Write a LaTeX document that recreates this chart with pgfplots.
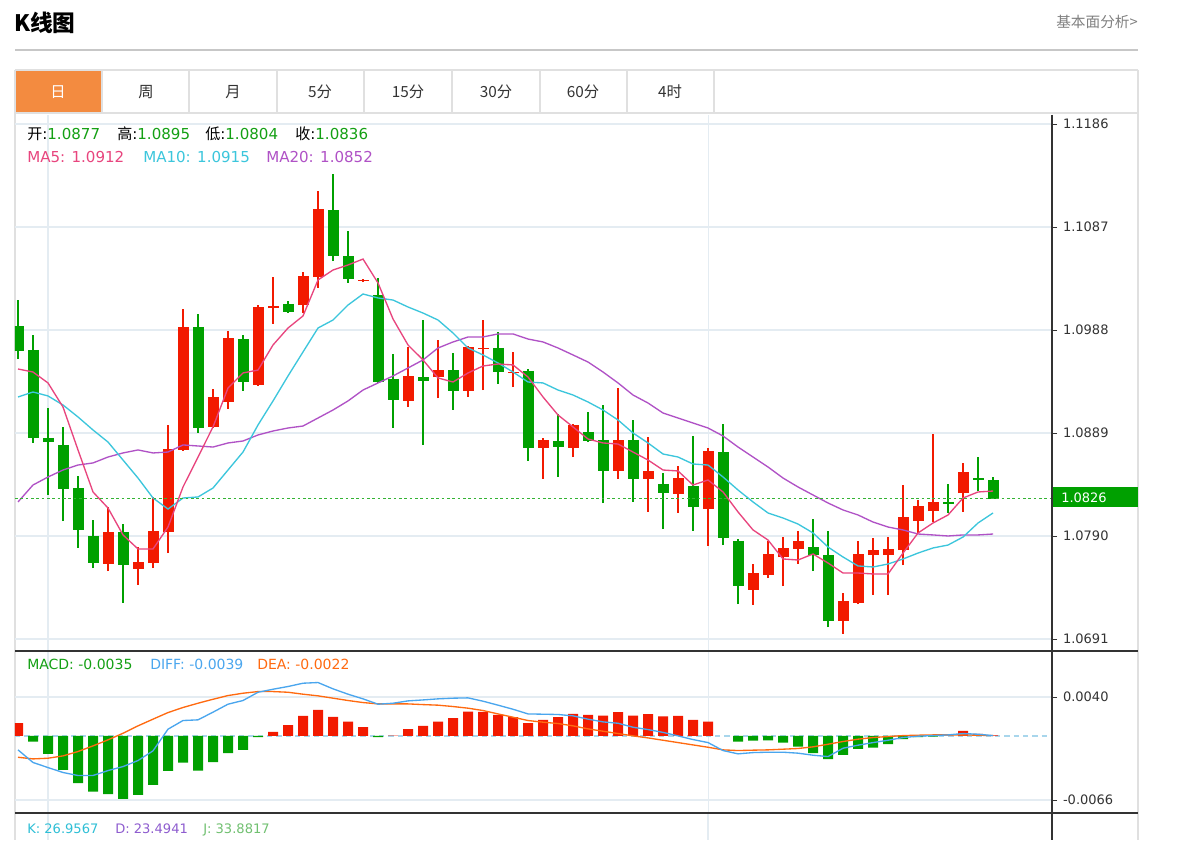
\documentclass[border=0pt]{standalone}
\usepackage{pgfplots}
\usepackage{pgfplotstable}
\pgfplotsset{compat=1.18}
\usepackage{fontspec}
\setmainfont{Noto Sans CJK SC}
\newfontfamily\tickf{DejaVu Sans}
\newfontfamily\cjkf{Noto Sans CJK SC}

\definecolor{kred}{HTML}{F21A00}
\definecolor{kgreen}{HTML}{00A000}
\definecolor{ma5c}{HTML}{E8457E}
\definecolor{ma10c}{HTML}{3CC6DC}
\definecolor{ma20c}{HTML}{B052C6}
\definecolor{difc}{HTML}{4AA6EE}
\definecolor{deac}{HTML}{FF6A10}
\definecolor{gridc}{HTML}{E4ECF2}
\definecolor{boxc}{HTML}{E0E0E0}
\definecolor{tabo}{HTML}{F38B40}
\definecolor{zeroc}{HTML}{A8D6EC}
\definecolor{txtg}{HTML}{14A014}
\definecolor{kc}{HTML}{2EBFD6}
\definecolor{dc}{HTML}{8E5CCF}
\definecolor{jc}{HTML}{70C070}
\definecolor{axc}{HTML}{333333}

% daily candles: open high low close, moving averages, MACD
\pgfplotstableread{
i  o       h       l       c       ma5     ma10    ma20    macd     dif      dea
0  1.09918 1.10168 1.09601 1.09678 1.09505 1.09236 1.08227  0.00130 -0.00144 -0.00220
1  1.09688 1.09832 1.08794 1.08842 1.09476 1.09284 1.08390 -0.00058 -0.00274 -0.00237
2  1.08842 1.09130 1.08294 1.08803 1.09371 1.09246 1.08467 -0.00185 -0.00326 -0.00230
3  1.08775 1.08948 1.08044 1.08352 1.09140 1.09159 1.08534 -0.00350 -0.00377 -0.00206
4  1.08361 1.08477 1.07785 1.07958 1.08727 1.09044 1.08582 -0.00487 -0.00408 -0.00161
5  1.07900 1.08054 1.07592 1.07640 1.08323 1.08919 1.08602 -0.00573 -0.00408 -0.00103
6  1.07631 1.08179 1.07563 1.07938 1.08169 1.08803 1.08659 -0.00600 -0.00357 -0.00041
7  1.07938 1.08015 1.07256 1.07621 1.07910 1.08630 1.08698 -0.00648 -0.00316  0.00027
8  1.07583 1.07794 1.07429 1.07650 1.07775 1.08457 1.08727 -0.00607 -0.00254  0.00103
9  1.07640 1.08275 1.07592 1.07948 1.07775 1.08265 1.08698 -0.00504 -0.00154  0.00172
10 1.07938 1.08967 1.07736 1.08736 1.07986 1.08159 1.08707 -0.00360  0.00069  0.00240
11 1.08727 1.10082 1.08717 1.09909 1.08371 1.08265 1.08775 -0.00274  0.00158  0.00292
12 1.09909 1.10034 1.08890 1.08938 1.08659 1.08275 1.08765 -0.00357  0.00165  0.00336
13 1.08948 1.09313 1.08938 1.09236 1.08948 1.08361 1.08755 -0.00271  0.00244  0.00377
14 1.09188 1.09870 1.09121 1.09803 1.09322 1.08534 1.08794 -0.00178  0.00326  0.00415
15 1.09793 1.09832 1.09294 1.09380 1.09467 1.08707 1.08813 -0.00144  0.00364  0.00439
16 1.09351 1.10120 1.09342 1.10101 1.09495 1.08967 1.08871 -0.00014  0.00449  0.00456
17 1.10091 1.10389 1.09938 1.10111 1.09736 1.09198 1.08909  0.00041  0.00480  0.00456
18 1.10130 1.10159 1.10043 1.10053 1.09899 1.09438 1.08938  0.00110  0.00508  0.00449
19 1.10120 1.10437 1.10043 1.10399 1.10015 1.09669 1.08957  0.00206  0.00542  0.00429
20 1.10389 1.11216 1.10284 1.11043 1.10361 1.09899 1.09034  0.00268  0.00549  0.00412
21 1.11033 1.11379 1.10543 1.10591 1.10457 1.09976 1.09111  0.00196  0.00484  0.00388
22 1.10591 1.10832 1.10332 1.10370 1.10505 1.10120 1.09198  0.00147  0.00429  0.00364
23 1.10351 1.10370 1.10341 1.10361 1.10562 1.10226 1.09303  0.00089  0.00381  0.00343
24 1.10216 1.10380 1.09370 1.09380 1.10332 1.10188 1.09371 -0.00014  0.00326  0.00329
25 1.09409 1.09649 1.08938 1.09207 1.09986 1.10168 1.09438  0.00003  0.00336  0.00329
26 1.09198 1.09717 1.09140 1.09438 1.09736 1.10101 1.09515  0.00069  0.00360  0.00329
27 1.09428 1.09976 1.08775 1.09390 1.09592 1.10043 1.09592  0.00103  0.00370  0.00322
28 1.09428 1.09784 1.09226 1.09495 1.09419 1.09976 1.09707  0.00147  0.00381  0.00316
29 1.09495 1.09659 1.09111 1.09294 1.09380 1.09851 1.09765  0.00182  0.00388  0.00302
30 1.09294 1.09726 1.09236 1.09717 1.09467 1.09707 1.09813  0.00250  0.00391  0.00285
31 1.09697 1.09976 1.09303 1.09707 1.09534 1.09640 1.09813  0.00247  0.00357  0.00261
32 1.09707 1.09861 1.09361 1.09476 1.09553 1.09563 1.09842  0.00216  0.00316  0.00226
33 1.09467 1.09669 1.09332 1.09476 1.09544 1.09476 1.09842  0.00192  0.00274  0.00192
34 1.09486 1.09505 1.08621 1.08746 1.09428 1.09380 1.09793  0.00130  0.00226  0.00158
35 1.08746 1.08842 1.08448 1.08823 1.09236 1.09371 1.09765  0.00165  0.00223  0.00141
36 1.08813 1.09073 1.08467 1.08755 1.09063 1.09303 1.09707  0.00192  0.00220  0.00127
37 1.08746 1.08976 1.08659 1.08967 1.08948 1.09255 1.09640  0.00226  0.00206  0.00103
38 1.08900 1.09092 1.08803 1.08813 1.08832 1.09188 1.09572  0.00216  0.00172  0.00072
39 1.08823 1.09159 1.08217 1.08525 1.08794 1.09111 1.09476  0.00209  0.00144  0.00048
40 1.08525 1.09322 1.08448 1.08823 1.08784 1.09015 1.09371  0.00244  0.00130  0.00024
41 1.08823 1.09015 1.08227 1.08448 1.08707 1.08890 1.09255  0.00209  0.00089  0.00000
42 1.08448 1.08851 1.08131 1.08525 1.08630 1.08794 1.09178  0.00223  0.00065 -0.00021
43 1.08400 1.08505 1.07967 1.08313 1.08534 1.08688 1.09082  0.00202  0.00036 -0.00045
44 1.08304 1.08573 1.08121 1.08457 1.08525 1.08659 1.09034  0.00206  0.00000 -0.00069
45 1.08380 1.08861 1.07948 1.08179 1.08390 1.08592 1.08986  0.00165 -0.00038 -0.00093
46 1.08159 1.08746 1.07804 1.08717 1.08438 1.08582 1.08938  0.00147 -0.00069 -0.00117
47 1.08707 1.08976 1.07813 1.07881 1.08323 1.08467 1.08861  0.00000 -0.00151 -0.00144
48 1.07852 1.07871 1.07246 1.07419 1.08131 1.08342 1.08755 -0.00058 -0.00185 -0.00151
49 1.07381 1.07631 1.07237 1.07544 1.07958 1.08227 1.08659 -0.00048 -0.00172 -0.00147
50 1.07525 1.07852 1.07496 1.07727 1.07861 1.08121 1.08563 -0.00045 -0.00168 -0.00144
51 1.07698 1.07890 1.07419 1.07785 1.07679 1.08073 1.08457 -0.00069 -0.00168 -0.00137
52 1.07775 1.07948 1.07631 1.07852 1.07669 1.08015 1.08371 -0.00110 -0.00178 -0.00130
53 1.07794 1.08063 1.07563 1.07717 1.07727 1.07929 1.08294 -0.00178 -0.00199 -0.00113
54 1.07717 1.07948 1.07025 1.07083 1.07640 1.07794 1.08217 -0.00240 -0.00213 -0.00086
55 1.07083 1.07352 1.06958 1.07275 1.07544 1.07698 1.08150 -0.00196 -0.00127 -0.00058
56 1.07256 1.07852 1.07246 1.07727 1.07544 1.07612 1.08102 -0.00134 -0.00096 -0.00034
57 1.07717 1.07881 1.07333 1.07765 1.07535 1.07602 1.08034 -0.00120 -0.00069 -0.00017
58 1.07717 1.07890 1.07333 1.07775 1.07535 1.07631 1.07986 -0.00086 -0.00045 -0.00007
59 1.07765 1.08390 1.07621 1.08083 1.07736 1.07679 1.07958 -0.00034 -0.00017  0.00003
60 1.08044 1.08246 1.07929 1.08188 1.07929 1.07736 1.07919 -0.00014 -0.00003  0.00007
61 1.08140 1.08880 1.08034 1.08227 1.08025 1.07785 1.07910 -0.00007  0.00003  0.00010
62 1.08227 1.08400 1.08121 1.08207 1.08102 1.07813 1.07900  0.00003  0.00010  0.00010
63 1.08313 1.08602 1.08131 1.08515 1.08265 1.07890 1.07910  0.00051  0.00024  0.00010
64 1.08457 1.08659 1.08332 1.08438 1.08323 1.08025 1.07910  0.00020  0.00017  0.00007
65 1.08438 1.08467 1.08256 1.08260 1.08332 1.08121 1.07919  0.00005  0.00003  0.00003
}\kdata

\pgfplotsset{
  panel/.style={
    scale only axis, width=777.75pt,
    xmin=-0.2, xmax=68.93,
    axis line style={draw=none},
    xtick={2,46}, xticklabels={}, x tick style={draw=none},
    ytick pos=right, yticklabel pos=right,
    scaled y ticks=false,
    tick align=outside, major tick length=3.75pt,
    y tick style={axc, line width=0.6pt},
    yticklabel style={font=\tickf\fontsize{9.75}{11}\selectfont, text=axc, xshift=1pt},
    grid=major, major grid style={gridc, line width=0.8pt},
  },
  up/.style={x filter/.expression={\thisrow{c}>\thisrow{o} ? x : nan}},
  down/.style={x filter/.expression={\thisrow{c}>\thisrow{o} ? nan : x}},
}

\begin{document}
\begin{tikzpicture}
\useasboundingbox (0,0) rectangle (892.5pt,630pt);
\fill[white] (0,0) rectangle (892.5pt,630pt);

% page furniture, in pixel units with y pointing down
\begin{scope}[x=0.75pt,y=-0.75pt,shift={(0pt,630pt)}]
  \node[anchor=west,inner sep=0] at (14,23) {\fontsize{17}{19}\selectfont\bfseries K线图};
  \node[anchor=east,inner sep=0,text=black!50] at (1138,22) {\fontsize{11}{13}\selectfont 基本面分析>};
  \draw[black!22,line width=1.1pt] (15,50) -- (1138,50);
  \fill[tabo] (15,70) rectangle (102,113);
  \draw[boxc,line width=0.8pt] (15,70) -- (1138,70) (15,113) -- (1138,113)
     (15,70) -- (15,840) (1138,70) -- (1138,840);
  \foreach \xx in {102,189,277,364,452,540,627,714}
     \draw[boxc,line width=0.8pt] (\xx,70) -- (\xx,113);
  \node[text=white] at (58,92) {\fontsize{11.5}{13}\selectfont 日};
  \foreach \xx/\tt in {146/周,233/月,320/5分,408/15分,496/30分,583/60分,670/4时}
     \node[text=axc] at (\xx,92) {\fontsize{11.5}{13}\selectfont \tt};
  \draw[gridc,line width=0.8pt] (48,813) -- (48,840) (708,813) -- (708,840);
\end{scope}

% price panel
\begin{axis}[panel, at={(11.25pt,141.75pt)}, anchor=south west, height=402pt,
  ymin=1.067945, ymax=1.119465,
  ytick={1.1186,1.1087,1.0988,1.0889,1.0790,1.0691},
  yticklabels={1.1186,1.1087,1.0988,1.0889,1.0790,1.0691}]
  \addplot[kred, line width=1pt, quiver={u=0,v=\thisrow{h}-\thisrow{l}}, -, up] table[x=i,y=l]{\kdata};
  \addplot[kgreen, line width=1pt, quiver={u=0,v=\thisrow{h}-\thisrow{l}}, -, down] table[x=i,y=l]{\kdata};
  \addplot[kred, line width=8.25pt, quiver={u=0,v=\thisrow{c}-\thisrow{o}}, -, up] table[x=i,y=o]{\kdata};
  \addplot[kgreen, line width=8.25pt, quiver={u=0,v=\thisrow{c}-\thisrow{o}}, -, down] table[x=i,y=o]{\kdata};
  \addplot[ma20c, line width=1pt] table[x=i,y=ma20]{\kdata};
  \addplot[ma10c, line width=1pt] table[x=i,y=ma10]{\kdata};
  \addplot[ma5c, line width=1pt] table[x=i,y=ma5]{\kdata};
  \addplot[kgreen!80!white, line width=1pt, dash pattern=on 2pt off 2pt] coordinates {(-0.2,1.0826) (68.93,1.0826)};
\end{axis}

% MACD panel
\begin{axis}[panel, at={(11.25pt,20.25pt)}, anchor=south west, height=121.5pt,
  ymin=-0.007937, ymax=0.008734,
  ytick={0.0040,-0.0066},
  yticklabels={0.0040,-0.0066}]
  \addplot[zeroc, line width=1pt, dash pattern=on 4pt off 3pt] coordinates {(-0.2,0) (68.93,0)};
  \addplot[ybar, bar width=7.5pt, bar shift=0pt, fill=kred, draw=none,
     y filter/.expression={y>0 ? y : nan}] table[x=i,y=macd]{\kdata};
  \addplot[ybar, bar width=7.5pt, bar shift=0pt, fill=kgreen, draw=none,
     y filter/.expression={y<0 ? y : nan}] table[x=i,y=macd]{\kdata};
  \addplot[deac, line width=1pt] table[x=i,y=dea]{\kdata};
  \addplot[difc, line width=1pt] table[x=i,y=dif]{\kdata};
\end{axis}

% overlays
\begin{scope}[x=0.75pt,y=-0.75pt,shift={(0pt,630pt)}]
  \draw[axc,line width=0.9pt] (15,651) -- (1138,651) (15,813) -- (1138,813);
  \draw[axc,line width=0.9pt] (1052,115) -- (1052,840);
  \fill[kgreen] (1053,487) rectangle (1138,507);
  \node[anchor=west,inner sep=0,text=white] at (1061,497.5) {\tickf\fontsize{9.75}{11}\selectfont 1.0826};
  \begin{scope}[every node/.style={anchor=base west,inner sep=0,font=\tickf\fontsize{11.3}{13}\selectfont}]
    \node at (27,140) {{\cjkf 开}:\textcolor{txtg}{1.0877}};
    \node at (117,140) {{\cjkf 高}:\textcolor{txtg}{1.0895}};
    \node at (205,140) {{\cjkf 低}:\textcolor{txtg}{1.0804}};
    \node at (295,140) {{\cjkf 收}:\textcolor{txtg}{1.0836}};
    \node[text=ma5c] at (27,163) {MA5: 1.0912};
    \node[text=ma10c] at (143,163) {MA10: 1.0915};
    \node[text=ma20c] at (266,163) {MA20: 1.0852};
  \end{scope}
  \begin{scope}[every node/.style={anchor=base west,inner sep=0,font=\tickf\fontsize{10.5}{12}\selectfont}]
    \node[text=txtg] at (27,669) {MACD: -0.0035};
    \node[text=difc] at (150,669) {DIFF: -0.0039};
    \node[text=deac] at (257,669) {DEA: -0.0022};
  \end{scope}
  \begin{scope}[every node/.style={anchor=base west,inner sep=0,font=\tickf\fontsize{9.8}{12}\selectfont}]
    \node[text=kc] at (27,833) {K: 26.9567};
    \node[text=dc] at (115,833) {D: 23.4941};
    \node[text=jc] at (203,833) {J: 33.8817};
  \end{scope}
\end{scope}
\end{tikzpicture}
\end{document}
